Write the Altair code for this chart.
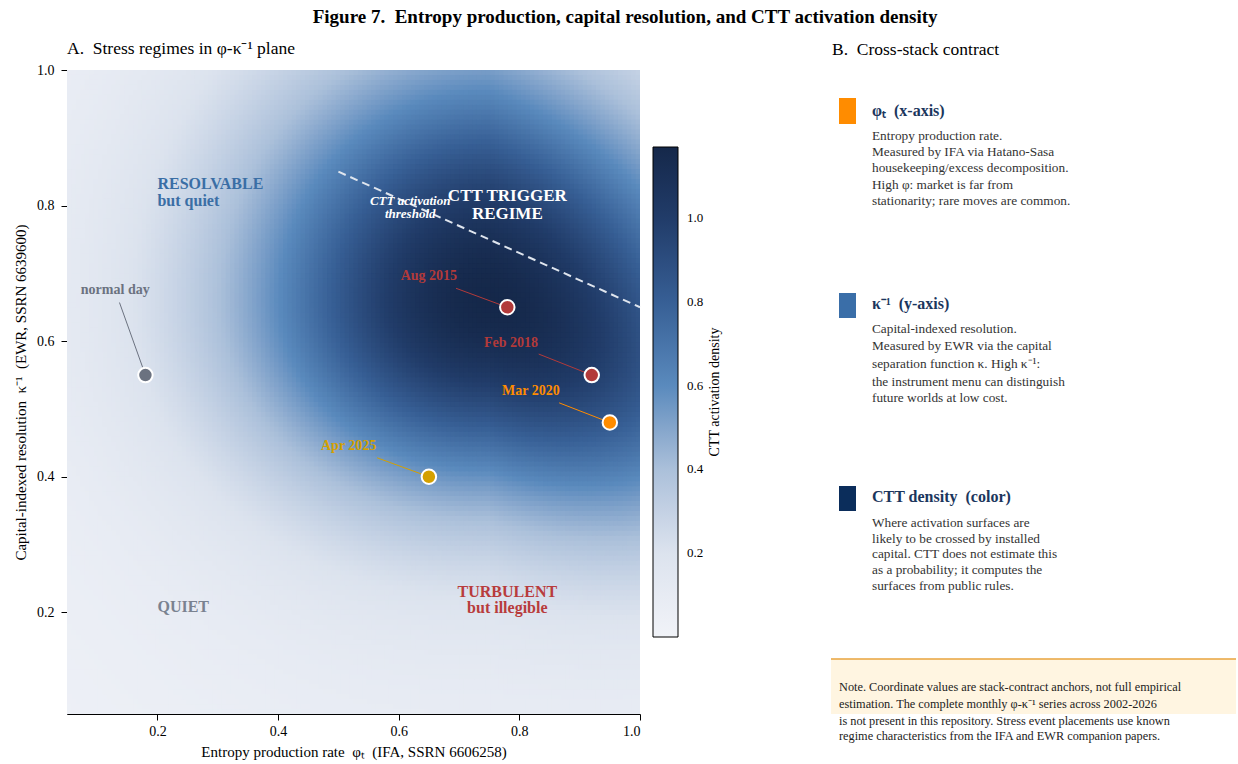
import altair as alt
import numpy as np
import pandas as pd

FONT = "Liberation Serif"
SP2 = "\u00a0\u00a0"

# ---------------- panel A: axes ----------------
x_domain = [0.05, 1.0]
y_domain = [0.05, 1.0]
tick_values = [0.2, 0.4, 0.6, 0.8, 1.0]

# density field parameters
peak_cx, peak_cy = 0.75, 0.66
peak_amp = 1.02
peak_sx_left, peak_sx_right = 0.28, 0.32
peak_sy_down, peak_sy_up = 0.20, 0.25
peak_tilt_right = 0.30          # ridge drops toward the lower right
bg_cx, bg_cy = 0.70, 0.65
bg_amp = 0.15
bg_sigma = 0.55
grid_n = 130

color_stops = [0.0, 0.2, 0.4, 0.6, 0.8, 1.0, 1.17]
color_hex = ["#f1f3f8", "#dce3ee", "#abc0da", "#5a8abd", "#375f95", "#213c69", "#15284a"]

# colorbar title position (panel A data units)
cbar_title = "CTT activation density"
cbar_title_phi = 1.124
cbar_title_kinv = 0.525

# stress events
event_names = ["normal day", "Aug 2015", "Feb 2018", "Mar 2020", "Apr 2025"]
event_phi = [0.18, 0.78, 0.92, 0.95, 0.65]
event_kinv = [0.55, 0.65, 0.55, 0.48, 0.40]
event_colors = ["#6b7280", "#b23a3a", "#b23a3a", "#ff8c00", "#d4a000"]
label_phi = [0.130, 0.650, 0.786, 0.819, 0.517]
label_kinv = [0.675, 0.696, 0.597, 0.526, 0.445]
leader_phi = [0.137, 0.695, 0.832, 0.866, 0.564]
leader_kinv = [0.657, 0.678, 0.581, 0.509, 0.428]

# threshold line
thr_phi = [0.50, 1.00]
thr_kinv = [0.85, 0.65]

# region labels
region_text = ["RESOLVABLE", "but quiet", "QUIET", "TURBULENT", "but illegible"]
region_phi = [0.20, 0.20, 0.20, 0.78, 0.78]
region_kinv = [0.832, 0.807, 0.208, 0.230, 0.206]
region_colors = ["#3a6ea5", "#3a6ea5", "#7a8290", "#b83c3c", "#b83c3c"]
region_align = ["left", "left", "left", "center", "center"]

trigger_text = ["CTT TRIGGER", "REGIME"]
trigger_phi = [0.78, 0.78]
trigger_kinv = [0.814, 0.788]

thr_label_text = ["CTT activation", "threshold"]
thr_label_phi = [0.619, 0.619]
thr_label_kinv = [0.807, 0.788]

# ---------------- panel B ----------------
b_width, b_height = 392, 644
sq_colors = ["#ff8c00", "#3a6ea8", "#0b2d5b"]
sq_x0 = [7, 7, 7]
sq_x1 = [24, 24, 24]
sq_y0 = [28, 223, 416]
sq_y1 = [54, 248, 441]
head_text = ["φₜ" + SP2 + "(x-axis)", "κ⁻¹" + SP2 + "(y-axis)", "CTT density" + SP2 + "(color)"]
head_y = [41, 234, 427]
body_lines = [
    "Entropy production rate.",
    "Measured by IFA via Hatano-Sasa",
    "housekeeping/excess decomposition.",
    "High φ: market is far from",
    "stationarity; rare moves are common.",
    "Capital-indexed resolution.",
    "Measured by EWR via the capital",
    "separation function κ. High κ⁻¹:",
    "the instrument menu can distinguish",
    "future worlds at low cost.",
    "Where activation surfaces are",
    "likely to be crossed by installed",
    "capital. CTT does not estimate this",
    "as a probability; it computes the",
    "surfaces from public rules.",
]
body_y = [66, 82, 98, 115, 131,
          259, 276, 294, 312, 328,
          453, 469, 484, 500, 516]
note_lines = [
    "Note. Coordinate values are stack-contract anchors, not full empirical",
    "estimation. The complete monthly φ-κ⁻¹ series across 2002-2026",
    "is not present in this repository. Stress event placements use known",
    "regime characteristics from the IFA and EWR companion papers.",
]
note_y = [617, 634, 651, 666]
note_box = {"x0": -1, "x1": 404, "y0": 589, "y1": 644}

# ---------------- build density grid ----------------
edges_x = np.linspace(x_domain[0], x_domain[1], grid_n + 1)
edges_y = np.linspace(y_domain[0], y_domain[1], grid_n + 1)
cell_x = edges_x[1] - edges_x[0]
cell_y = edges_y[1] - edges_y[0]
cx = (edges_x[:-1] + edges_x[1:]) / 2
cy = (edges_y[:-1] + edges_y[1:]) / 2
X, Y = np.meshgrid(cx, cy)
X0, Y0 = np.meshgrid(edges_x[:-1], edges_y[:-1])
# cells overlap their neighbours a little so that no seams show
X1 = np.minimum(X0 + 1.5 * cell_x, x_domain[1])
Y1 = np.minimum(Y0 + 1.5 * cell_y, y_domain[1])
ridge_y = peak_cy - peak_tilt_right * np.maximum(X - peak_cx, 0)
sx = np.where(X < peak_cx, peak_sx_left, peak_sx_right)
sy = np.where(Y < ridge_y, peak_sy_down, peak_sy_up)
D = peak_amp * np.exp(-0.5 * (((X - peak_cx) / sx) ** 2 + ((Y - ridge_y) / sy) ** 2))
D += bg_amp * np.exp(-0.5 * (((X - bg_cx) / bg_sigma) ** 2 + ((Y - bg_cy) / bg_sigma) ** 2))
grid = pd.DataFrame({
    "x0": X0.ravel(), "x1": X1.ravel(), "y0": Y0.ravel(), "y1": Y1.ravel(), "d": D.ravel()
})

xs = alt.Scale(domain=x_domain, nice=False, zero=False)
ys = alt.Scale(domain=y_domain, nice=False, zero=False)
cscale = alt.Scale(domain=color_stops, range=color_hex, clamp=True)

heat = alt.Chart(grid).mark_rect(strokeWidth=0).encode(
    x=alt.X("x0:Q", scale=xs, axis=alt.Axis(
        values=tick_values, format=".1f",
        title="Entropy production rate" + SP2 + "φₜ" + SP2 + "(IFA, SSRN 6606258)")),
    x2="x1:Q",
    y=alt.Y("y0:Q", scale=ys, axis=alt.Axis(
        values=tick_values, format=".1f",
        title="Capital-indexed resolution" + SP2 + "κ⁻¹" + SP2 + "(EWR, SSRN 6639600)")),
    y2="y1:Q",
    color=alt.Color("d:Q", scale=cscale, legend=alt.Legend(
        type="gradient", orient="none", legendX=586, legendY=77, direction="vertical",
        gradientLength=490, gradientThickness=25, values=tick_values, format=".1f",
        title=None, labelFont=FONT, labelFontSize=13, labelOffset=9, labelColor="black",
        gradientStrokeColor="black", gradientStrokeWidth=1)),
)

cbar_lab = alt.Chart(pd.DataFrame({"t": [cbar_title], "x": [cbar_title_phi], "y": [cbar_title_kinv]})).mark_text(
    font=FONT, fontSize=14, angle=270, align="center", baseline="middle", color="black").encode(
    x="x:Q", y="y:Q", text="t:N")

thr_df = pd.DataFrame({"x": [thr_phi[0]], "y": [thr_kinv[0]], "x2": [thr_phi[1]], "y2": [thr_kinv[1]]})
thr = alt.Chart(thr_df).mark_rule(color="#dfe5ee", strokeWidth=2, strokeDash=[8, 5]).encode(
    x="x:Q", y="y:Q", x2="x2:Q", y2="y2:Q")

ev = pd.DataFrame({
    "name": event_names, "phi": event_phi, "kinv": event_kinv, "c": event_colors,
    "lphi": label_phi, "lkinv": label_kinv, "ldx": leader_phi, "ldy": leader_kinv,
})
leaders = alt.Chart(ev).mark_rule(strokeWidth=1).encode(
    x="ldx:Q", y="ldy:Q", x2="phi:Q", y2="kinv:Q", stroke=alt.Stroke("c:N", scale=None))
points = alt.Chart(ev).mark_point(filled=True, size=210, stroke="white", strokeWidth=2,
                                  opacity=1, shape="circle").encode(
    x="phi:Q", y="kinv:Q", fill=alt.Fill("c:N", scale=None))
ev_labels = alt.Chart(ev).mark_text(font=FONT, fontSize=14, fontWeight="bold",
                                    align="center", baseline="middle").encode(
    x="lphi:Q", y="lkinv:Q", text="name:N", fill=alt.Fill("c:N", scale=None))

reg = pd.DataFrame({"t": region_text, "x": region_phi, "y": region_kinv,
                    "c": region_colors, "a": region_align})
reg_left = alt.Chart(reg[reg.a == "left"]).mark_text(
    font=FONT, fontSize=16, fontWeight="bold", align="left", baseline="middle").encode(
    x="x:Q", y="y:Q", text="t:N", fill=alt.Fill("c:N", scale=None))
reg_center = alt.Chart(reg[reg.a == "center"]).mark_text(
    font=FONT, fontSize=16, fontWeight="bold", align="center", baseline="middle").encode(
    x="x:Q", y="y:Q", text="t:N", fill=alt.Fill("c:N", scale=None))

trig = alt.Chart(pd.DataFrame({"t": trigger_text, "x": trigger_phi, "y": trigger_kinv})).mark_text(
    font=FONT, fontSize=17, fontWeight="bold", align="center", baseline="middle", color="white").encode(
    x="x:Q", y="y:Q", text="t:N")
thr_lab = alt.Chart(pd.DataFrame({"t": thr_label_text, "x": thr_label_phi, "y": thr_label_kinv})).mark_text(
    font=FONT, fontSize=13, fontWeight="bold", fontStyle="italic", align="center",
    baseline="middle", color="white").encode(x="x:Q", y="y:Q", text="t:N")

panel_a = alt.layer(heat, cbar_lab, thr, leaders, points, ev_labels, reg_left, reg_center, trig, thr_lab).properties(
    width=573, height=644,
    title=alt.TitleParams("A." + SP2 + "Stress regimes in φ-κ⁻¹ plane", anchor="start", frame="group",
                          fontSize=17.5, fontWeight="normal", font=FONT, offset=6),
)

# ---------------- panel B chart ----------------
bx = alt.Scale(domain=[0, b_width], nice=False, zero=False)
by = alt.Scale(domain=[0, b_height], nice=False, zero=False, reverse=True)

sq = alt.Chart(pd.DataFrame({"x0": sq_x0, "x1": sq_x1, "y0": sq_y0, "y1": sq_y1, "c": sq_colors})).mark_rect().encode(
    x=alt.X("x0:Q", scale=bx, axis=None), x2="x1:Q",
    y=alt.Y("y0:Q", scale=by, axis=None), y2="y1:Q",
    fill=alt.Fill("c:N", scale=None))
heads = alt.Chart(pd.DataFrame({"t": head_text, "y": head_y, "x": [40] * 3})).mark_text(
    font=FONT, fontSize=16, fontWeight="bold", align="left", baseline="middle", color="#1b365d").encode(
    x=alt.X("x:Q", scale=bx, axis=None), y=alt.Y("y:Q", scale=by, axis=None), text="t:N")
body = alt.Chart(pd.DataFrame({"t": body_lines, "y": body_y, "x": [40] * len(body_lines)})).mark_text(
    font=FONT, fontSize=13.3, align="left", baseline="middle", color="#333333").encode(
    x=alt.X("x:Q", scale=bx, axis=None), y=alt.Y("y:Q", scale=by, axis=None), text="t:N")
nbox = alt.Chart(pd.DataFrame([note_box])).mark_rect(fill="#fff5e1").encode(
    x=alt.X("x0:Q", scale=bx, axis=None), x2="x1:Q",
    y=alt.Y("y0:Q", scale=by, axis=None), y2="y1:Q")
nline = alt.Chart(pd.DataFrame([note_box])).mark_rule(color="#e8a33d", strokeWidth=1.5).encode(
    x=alt.X("x0:Q", scale=bx, axis=None), x2="x1:Q",
    y=alt.Y("y0:Q", scale=by, axis=None))
note = alt.Chart(pd.DataFrame({"t": note_lines, "y": note_y, "x": [7] * len(note_lines)})).mark_text(
    font=FONT, fontSize=12.3, align="left", baseline="middle", color="#222222").encode(
    x=alt.X("x:Q", scale=bx, axis=None), y=alt.Y("y:Q", scale=by, axis=None), text="t:N")

panel_b = alt.layer(sq, heads, body, nbox, nline, note).properties(
    width=b_width, height=b_height,
    title=alt.TitleParams("B." + SP2 + "Cross-stack contract", anchor="start", frame="group",
                          fontSize=17.5, fontWeight="normal", font=FONT, offset=12),
)

chart = alt.hconcat(panel_a, panel_b, spacing=108).properties(
    title=alt.TitleParams("Figure 7." + SP2 + "Entropy production, capital resolution, and CTT activation density",
                          fontSize=19, fontWeight="bold", font=FONT, anchor="middle", offset=13),
    padding={"left": 13, "top": 7, "right": 0, "bottom": 5},
).configure(font=FONT).configure_view(stroke=None).configure_axis(
    domainColor="black", tickColor="black", labelColor="black", titleColor="black",
    labelFont=FONT, titleFont=FONT, labelFontSize=14, titleFontSize=15,
    titleFontWeight="normal", grid=False, tickSize=6,
).configure_axisY(titlePadding=8, labelPadding=7).configure_axisX(titlePadding=6, labelPadding=4)

chart.save("out.html", embed_options={"renderer": "svg", "actions": False})
